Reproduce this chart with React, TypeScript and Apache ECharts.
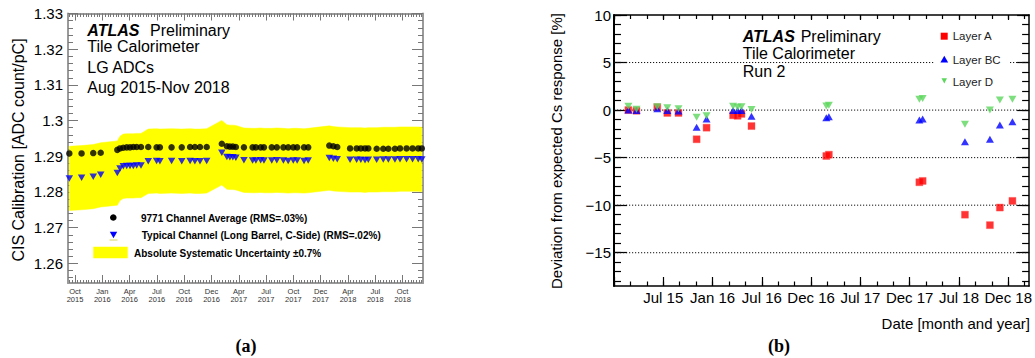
import React, { useEffect, useRef } from "react";
import * as echarts from "echarts";

// ---------- Panel (a): CIS calibration ----------
// x: days since 1 Aug 2015
const leftDays = [
  43, 84, 123, 148,
  203.5, 212.5, 223.5, 235, 246, 257, 268.4, 282.7, 307, 335, 346, 385, 419, 447, 463, 480, 502.5,
  553, 570, 580, 590, 600, 627, 656, 667, 683, 694, 720, 737, 759, 775, 792, 805, 828, 842,
  912.5, 926, 939, 982, 1004, 1018, 1032, 1043, 1071, 1093, 1110, 1132, 1149, 1171, 1191, 1210, 1222,
];
const channelAverage = [
  1.2908, 1.2908, 1.2909, 1.291,
  1.2918, 1.2922, 1.2924, 1.2925, 1.2925, 1.2926, 1.2926, 1.2926, 1.2926, 1.2925, 1.2925, 1.2925, 1.2925, 1.2926, 1.2926, 1.2926, 1.2926,
  1.2935, 1.2928, 1.2927, 1.2927, 1.2926, 1.2925, 1.2925, 1.2925, 1.2925, 1.2925, 1.2925, 1.2925, 1.2925, 1.2925, 1.2925, 1.2925, 1.2925, 1.2925,
  1.293, 1.2928, 1.2926, 1.2922, 1.2922, 1.2922, 1.2922, 1.2922, 1.2921, 1.2921, 1.2921, 1.2921, 1.2922, 1.2922, 1.2922, 1.2922, 1.2922,
];
const typicalChannel = [
  1.2838, 1.284, 1.2843, 1.2848,
  1.2853, 1.2866, 1.2872, 1.2873, 1.2873, 1.2873, 1.2874, 1.2874, 1.2886, 1.2887, 1.2886, 1.2887, 1.2886, 1.2887, 1.2886, 1.2886, 1.2887,
  1.291, 1.2898, 1.2897, 1.2897, 1.2896, 1.2889, 1.2888, 1.2888, 1.2889, 1.2888, 1.2888, 1.2889, 1.2888, 1.2887, 1.2888, 1.2888, 1.2887, 1.2888,
  1.2895, 1.2893, 1.2892, 1.289, 1.289, 1.289, 1.2889, 1.289, 1.289, 1.2891, 1.2891, 1.2891, 1.2892, 1.2892, 1.2892, 1.2892, 1.2891,
];
const systematicUncertainty = 0.007;
const leftXRange = [38.6, 1225.9];
const leftTickFirst = 62;
const leftTickStep = 91.3;
const leftTickLabels = [
  "Oct\n2015", "Jan\n2016", "Apr\n2016", "Jul\n2016", "Oct\n2016", "Dec\n2016", "Apr\n2017",
  "Jul\n2017", "Oct\n2017", "Dec\n2017", "Apr\n2018", "Jul\n2018", "Oct\n2018",
];
const leftYRange = [1.2545, 1.33];
const leftYTicks = [1.26, 1.27, 1.28, 1.29, 1.3, 1.31, 1.32, 1.33];

// ---------- Panel (b): deviation from Cs response ----------
// x: months since the "Jul 15" tick
const rightMonths = [
  -4.25, -3.26, -0.73, 0.49, 1.85, 4.06, 5.27, 8.5, 9.05, 9.52, 10.74,
  19.85, 20.16, 31.18, 31.58, 36.73, 39.77, 40.98, 42.51,
];
const layerA = [
  0.0, -0.07, 0.3, -0.3, -0.3, -3.07, -1.85, -0.55, -0.6, -0.4, -1.68,
  -4.83, -4.69, -7.59, -7.45, -11.0, -12.1, -10.25, -9.55,
];
const layerBC = [
  0.0, -0.05, 0.15, -0.05, -0.1, -1.8, -0.95, -0.05, -0.05, -0.05, -0.65,
  -0.8, -0.7, -1.05, -0.95, -3.33, -3.08, -1.57, -1.22,
];
const layerD = [
  0.4, 0.1, 0.35, 0.25, 0.15, -0.75, -0.6, 0.4, 0.3, 0.35, 0.05,
  0.42, 0.52, 1.15, 1.22, -1.5, 0.0, 1.05, 1.15,
];
const rightXRange = [-6, 44.54];
const rightTickLabels = ["", "Jul 15", "Jan 16", "Jul 16", "Dec 16", "Jul 17", "Dec 17", "Jul 18", "Dec 18"];
const rightYRange = [-18.5, 10];
const rightYTicks = [10, 5, 0, -5, -10, -15];

const FONT = '"Liberation Sans", Arial, Helvetica, sans-serif';
const SERIF = '"Liberation Serif", "Times New Roman", serif';
const DOWN_TRI = "path://M0,0L10,0L5,9Z";

export default function App() {
  const ref = useRef<HTMLDivElement>(null);

  useEffect(() => {
    if (!ref.current) return;
    const chart = echarts.init(ref.current, undefined, { renderer: "svg" });

    const leftMajor = leftTickLabels.map((_, k) => leftTickFirst + k * leftTickStep);
    const leftMinor: number[] = [];
    for (let k = -30; k < 200; k++) {
      const v = leftTickFirst + (k * leftTickStep) / 10;
      if (v >= leftXRange[0] && v <= leftXRange[1]) leftMinor.push(v);
    }
    const leftYMinor: number[] = [];
    for (let i = 1256; i <= 1330; i += 2) leftYMinor.push(i / 1000);
    const rightMajor = rightTickLabels.map((_, k) => -6 + 6 * k);
    const rightMinor: number[] = [];
    for (let v = -6; v <= rightXRange[1]; v += 2) rightMinor.push(v);
    const rightYMinor: number[] = [];
    for (let v = -18; v <= 10; v += 1) rightYMinor.push(v);

    const gray = "#9a9a9a";
    const grayTick = { color: "#777", width: 1 };
    const blackTick = { color: "#000", width: 1.2 };

    const leftXFormatter = (v: number) => {
      const k = Math.round((v - leftTickFirst) / leftTickStep);
      return leftTickLabels[k] ?? "";
    };
    const rightXFormatter = (v: number) => {
      const k = Math.round((v + 6) / 6);
      return rightTickLabels[k] ?? "";
    };

    const off = () => ({ show: false });
    const lineOff = () => ({ show: false, onZero: false });
    const line = (color: string, width: number) => ({ show: true, onZero: false, lineStyle: { color, width } });
    const base = (gridIndex: number, range: number[]) => ({
      type: "value",
      gridIndex,
      min: range[0],
      max: range[1],
      splitLine: off(),
      minorSplitLine: off(),
    });
    const xl = base(0, leftXRange);
    const yl = base(0, leftYRange);
    const xr = base(1, rightXRange);
    const yr = base(1, rightYRange);

    const bandData = leftDays.map((d, i) => [d, typicalChannel[i]]);
    const gridLineData = rightYTicks.filter((v) => v < rightYRange[1]).map((v) => [rightXRange[0], v]);

    const text = (x: number, y: number, t: string, extra: any = {}, rot = 0) => ({
      type: "text",
      x,
      y,
      rotation: rot,
      z: 20,
      silent: true,
      style: {
        text: t,
        fontFamily: FONT,
        fontSize: 16,
        fill: "#000",
        align: "left",
        verticalAlign: "middle",
        ...extra,
      },
    });

    const option: any = {
      animation: false,
      backgroundColor: "#fff",
      grid: [
        { left: 68, top: 13.5, width: 355, height: 269.5 },
        { left: 614, top: 15, width: 416, height: 271 },
      ],
      xAxis: [
        {
          ...xl,
          position: "bottom",
          axisLine: line(gray, 2),
          axisTick: { show: true, inside: true, length: 8, customValues: leftMajor, lineStyle: grayTick },
          axisLabel: {
            show: true,
            customValues: leftMajor,
            formatter: leftXFormatter,
            fontSize: 7.5,
            lineHeight: 8.5,
            color: "#333",
            fontFamily: FONT,
            margin: 4,
          },
        },
        {
          ...xl,
          position: "bottom",
          axisLine: lineOff(),
          axisTick: { show: true, inside: true, length: 3, customValues: leftMinor, lineStyle: grayTick },
          axisLabel: off(),
        },
        {
          ...xl,
          position: "top",
          axisLine: line(gray, 2),
          axisTick: { show: true, inside: true, length: 7, customValues: leftMajor, lineStyle: grayTick },
          axisLabel: off(),
        },
        {
          ...xl,
          position: "top",
          axisLine: lineOff(),
          axisTick: { show: true, inside: true, length: 3.5, customValues: leftMinor, lineStyle: grayTick },
          axisLabel: off(),
        },
        {
          ...xr,
          position: "bottom",
          axisLine: line("#000", 1.5),
          axisTick: { show: true, inside: true, length: 9, customValues: rightMajor, lineStyle: blackTick },
          axisLabel: {
            show: true,
            customValues: rightMajor,
            formatter: rightXFormatter,
            fontSize: 15,
            color: "#000",
            fontFamily: FONT,
            margin: 4,
          },
        },
        {
          ...xr,
          position: "bottom",
          axisLine: lineOff(),
          axisTick: { show: true, inside: true, length: 4.5, customValues: rightMinor, lineStyle: blackTick },
          axisLabel: off(),
        },
        {
          ...xr,
          position: "top",
          axisLine: line("#000", 1.5),
          axisTick: { show: true, inside: true, length: 5, customValues: rightMajor, lineStyle: blackTick },
          axisLabel: off(),
        },
        {
          ...xr,
          position: "top",
          axisLine: lineOff(),
          axisTick: { show: true, inside: true, length: 4, customValues: rightMinor, lineStyle: blackTick },
          axisLabel: off(),
        },
      ],
      yAxis: [
        {
          ...yl,
          position: "left",
          axisLine: line(gray, 2),
          axisTick: { show: true, inside: true, length: 10, customValues: leftYTicks, lineStyle: grayTick },
          axisLabel: {
            show: true,
            customValues: leftYTicks,
            fontSize: 15,
            color: "#000",
            fontFamily: FONT,
            margin: 5,
          },
        },
        {
          ...yl,
          position: "left",
          axisLine: lineOff(),
          axisTick: { show: true, inside: true, length: 5, customValues: leftYMinor, lineStyle: grayTick },
          axisLabel: off(),
        },
        {
          ...yl,
          position: "right",
          axisLine: line(gray, 2),
          axisTick: { show: true, inside: true, length: 11, customValues: leftYTicks, lineStyle: grayTick },
          axisLabel: off(),
        },
        {
          ...yl,
          position: "right",
          axisLine: lineOff(),
          axisTick: { show: true, inside: true, length: 5, customValues: leftYMinor, lineStyle: grayTick },
          axisLabel: off(),
        },
        {
          ...yr,
          position: "left",
          axisLine: line("#000", 2),
          axisTick: { show: true, inside: true, length: 13, customValues: rightYTicks, lineStyle: blackTick },
          axisLabel: {
            show: true,
            customValues: rightYTicks,
            formatter: (v: number) => (v < 0 ? "\u2212" + Math.abs(v) : String(v)),
            fontSize: 15,
            color: "#000",
            fontFamily: FONT,
            margin: 3,
          },
        },
        {
          ...yr,
          position: "left",
          axisLine: lineOff(),
          axisTick: { show: true, inside: true, length: 7, customValues: rightYMinor, lineStyle: blackTick },
          axisLabel: off(),
        },
        {
          ...yr,
          position: "right",
          axisLine: line("#000", 1.5),
          axisTick: { show: true, inside: true, length: 12, customValues: rightYTicks, lineStyle: blackTick },
          axisLabel: off(),
        },
        {
          ...yr,
          position: "right",
          axisLine: lineOff(),
          axisTick: { show: true, inside: true, length: 7, customValues: rightYMinor, lineStyle: blackTick },
          axisLabel: off(),
        },
      ],
      series: [
        {
          name: "Absolute Systematic Uncertainty",
          type: "custom",
          xAxisIndex: 0,
          yAxisIndex: 0,
          z: 1,
          silent: true,
          clip: true,
          data: bandData,
          renderItem: (params: any, api: any) => {
            if (params.dataIndex !== 0) return null;
            const upper = bandData.map((p) => api.coord([p[0], p[1] * (1 + systematicUncertainty)]));
            const lower = bandData
              .map((p) => api.coord([p[0], p[1] * (1 - systematicUncertainty)]))
              .reverse();
            return {
              type: "polygon",
              shape: { points: upper.concat(lower) },
              style: { fill: "#ffff00", stroke: "#ffff00", lineWidth: 0.5 },
            };
          },
        },
        {
          name: "9771 Channel Average",
          type: "scatter",
          xAxisIndex: 0,
          yAxisIndex: 0,
          z: 3,
          symbol: "circle",
          symbolSize: 6.5,
          itemStyle: { color: "#000" },
          data: leftDays.map((d, i) => [d, channelAverage[i]]),
        },
        {
          name: "Typical Channel",
          type: "scatter",
          xAxisIndex: 0,
          yAxisIndex: 0,
          z: 3,
          symbol: DOWN_TRI,
          symbolSize: [7.5, 6.5],
          itemStyle: { color: "#0000ff" },
          data: leftDays.map((d, i) => [d, typicalChannel[i]]),
        },
        {
          name: "grid lines",
          type: "custom",
          xAxisIndex: 4,
          yAxisIndex: 4,
          z: 1,
          silent: true,
          clip: true,
          data: gridLineData,
          renderItem: (params: any, api: any) => {
            const v = api.value(1);
            const p1 = api.coord([rightXRange[0], v]);
            const p2 = api.coord([rightXRange[1], v]);
            return {
              type: "line",
              shape: { x1: p1[0], y1: p1[1], x2: p2[0], y2: p2[1] },
              style: { stroke: "#111", lineWidth: 1, lineDash: [1.2, 1.8] },
            };
          },
        },
        {
          name: "Layer A",
          type: "scatter",
          xAxisIndex: 4,
          yAxisIndex: 4,
          z: 3,
          symbol: "rect",
          symbolSize: 7,
          itemStyle: { color: "#ff0000", borderColor: "rgba(255,80,80,0.5)", borderWidth: 1 },
          data: rightMonths.map((m, i) => [m, layerA[i]]),
        },
        {
          name: "Layer BC",
          type: "scatter",
          xAxisIndex: 4,
          yAxisIndex: 4,
          z: 4,
          symbol: "triangle",
          symbolSize: [8, 7],
          itemStyle: { color: "#0000ff" },
          data: rightMonths.map((m, i) => [m, layerBC[i]]),
        },
        {
          name: "Layer D",
          type: "scatter",
          xAxisIndex: 4,
          yAxisIndex: 4,
          z: 5,
          symbol: DOWN_TRI,
          symbolSize: [8, 7],
          itemStyle: { color: "#5cd65c" },
          data: rightMonths.map((m, i) => [m, layerD[i]]),
        },
      ],
      graphic: [
        // panel (a) texts
        text(87.3, 30.7, "ATLAS", { fontWeight: "bold", fontStyle: "italic" }),
        text(150, 30.7, "Preliminary"),
        text(87.3, 46.7, "Tile Calorimeter"),
        text(87.3, 67.7, "LG ADCs"),
        text(87.3, 87.3, "Aug 2015-Nov 2018"),
        text(18, 150, "CIS Calibration [ADC count/pC]", { align: "center" }, Math.PI / 2),
        // panel (a) legend
        { type: "circle", z: 20, silent: true, shape: { cx: 113.3, cy: 217.5, r: 3.3 }, style: { fill: "#000" } },
        text(141, 218.3, "9771 Channel Average (RMS=.03%)", { fontSize: 10, fontWeight: "bold" }),
        {
          type: "polygon",
          z: 20,
          silent: true,
          shape: { points: [[109.8, 231.8], [117.2, 231.8], [113.5, 238.3]] },
          style: { fill: "#0000ff" },
        },
        {
          type: "line",
          z: 20,
          silent: true,
          shape: { x1: 109.5, y1: 240, x2: 117.5, y2: 240 },
          style: { stroke: "#d8d860", lineWidth: 1 },
        },
        text(141.7, 235.8, "Typical Channel (Long Barrel, C-Side) (RMS=.02%)", { fontSize: 10, fontWeight: "bold" }),
        { type: "rect", z: 20, silent: true, shape: { x: 93.3, y: 246.7, width: 34.4, height: 11.6 }, style: { fill: "#ffff00" } },
        text(134, 253.3, "Absolute Systematic Uncertainty \u00b10.7%", { fontSize: 10, fontWeight: "bold" }),
        // panel (b) texts
        text(742.7, 36.5, "ATLAS", { fontWeight: "bold", fontStyle: "italic" }),
        text(800.7, 36.5, "Preliminary"),
        text(742.7, 53.3, "Tile Calorimeter"),
        text(742.7, 71.5, "Run 2"),
        text(556, 151, "Deviation from expected Cs response [%]", { align: "center", fontSize: 15 }, Math.PI / 2),
        text(1030, 323, "Date [month and year]", { align: "right", fontSize: 15 }),
        // panel (b) legend box and entries
        { type: "rect", z: 15, silent: true, shape: { x: 935, y: 24, width: 74, height: 68 }, style: { fill: "#fff" } },
        { type: "rect", z: 20, silent: true, shape: { x: 940.7, y: 32.7, width: 7, height: 7 }, style: { fill: "#ff0000" } },
        text(952.7, 36.2, "Layer A", { fontSize: 11.5, fill: "#222" }),
        {
          type: "polygon",
          z: 20,
          silent: true,
          shape: { points: [[944.3, 55.8], [948.2, 62.6], [940.4, 62.6]] },
          style: { fill: "#0000ff" },
        },
        text(952.7, 59.5, "Layer BC", { fontSize: 11.5, fill: "#222" }),
        {
          type: "polygon",
          z: 20,
          silent: true,
          shape: { points: [[941.5, 78.3], [947, 78.3], [944.3, 83.5]] },
          style: { fill: "#5cd65c" },
        },
        text(952.7, 81.8, "Layer D", { fontSize: 11.5, fill: "#222" }),
        // captions
        text(246, 346, "(a)", { align: "center", fontFamily: SERIF, fontWeight: "bold", fontSize: 18 }),
        text(779, 346, "(b)", { align: "center", fontFamily: SERIF, fontWeight: "bold", fontSize: 18 }),
      ],
    };

    chart.setOption(option);
    return () => chart.dispose();
  }, []);

  return (
    <div
      ref={ref}
      style={{ position: "fixed", left: 0, top: 0, width: 1035, height: 358, background: "#fff" }}
    />
  );
}
